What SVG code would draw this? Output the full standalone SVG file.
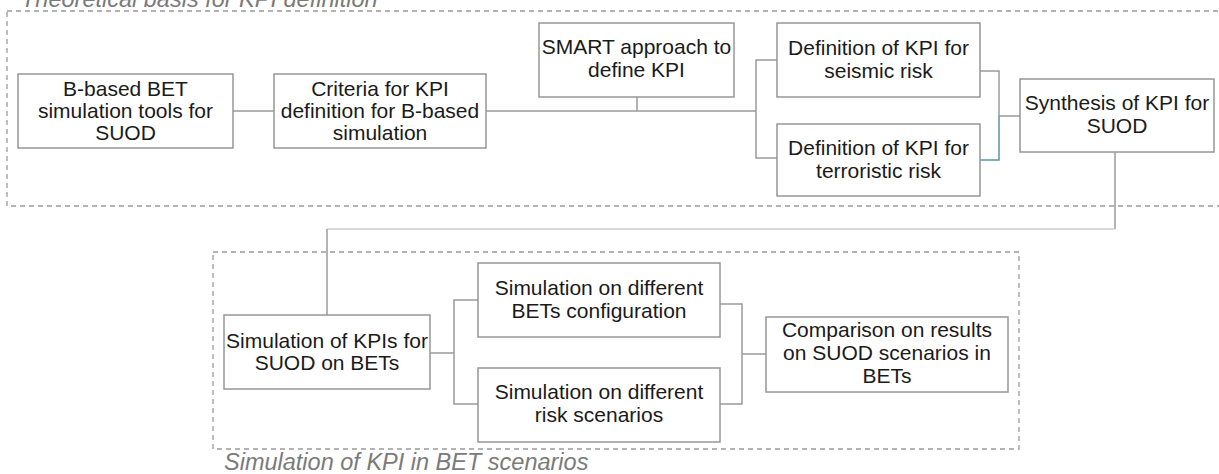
<svg xmlns="http://www.w3.org/2000/svg" width="1219" height="474" viewBox="0 0 1219 474">
<style>
.node rect{fill:#fff;stroke:#979797;stroke-width:1.5}
.node text{font-family:"Liberation Sans",Arial,sans-serif;font-size:21px;fill:#1a1a1a;text-anchor:middle}
.frame{fill:none;stroke:#9a9a9a;stroke-width:1.3;stroke-dasharray:5,4}
.lbl{font-family:"Liberation Sans",Arial,sans-serif;font-size:23.5px;font-style:italic;fill:#7a7a7a}
.conn path{fill:none;stroke:#9a9a9a;stroke-width:1.5}
</style>
<rect width="1219" height="474" fill="#fff"/>
<g id="frame-theory">
<rect class="frame" x="7" y="11" width="1230" height="195"/>
<text class="lbl" x="21" y="7">Theoretical basis for KPI definition</text>
</g>
<g id="frame-simulation">
<rect class="frame" x="213" y="252" width="806" height="197"/>
<text class="lbl" x="224" y="470">Simulation of KPI in BET scenarios</text>
</g>
<g class="conn" id="connectors">
<path d="M233,111H274"/>
<path d="M486,111H756"/>
<path d="M637,97V111"/>
<path d="M777,60H756V158H777"/>
<path d="M980,71H999V116"/>
<path d="M999,116V160H980" style="stroke:#5a979c"/>
<path d="M999,116H1020"/>
<path d="M1115,152V229"/>
<path d="M1115,229H327" style="stroke:#cdcdcd"/>
<path d="M327,229V315"/>
<path d="M430,353H454"/>
<path d="M478,300H454V404H478"/>
<path d="M720,304H742V404H720"/>
<path d="M742,354H766"/>
</g>
<g class="node" id="n-bbased">
<rect x="18" y="74" width="215" height="74"/>
<text x="125.5" y="96">B-based BET</text>
<text x="125.5" y="118">simulation tools for</text>
<text x="125.5" y="140">SUOD</text>
</g>
<g class="node" id="n-criteria">
<rect x="274" y="74" width="212" height="74"/>
<text x="380" y="96">Criteria for KPI</text>
<text x="380" y="118">definition for B-based</text>
<text x="380" y="140">simulation</text>
</g>
<g class="node" id="n-smart">
<rect x="539" y="23" width="195" height="74"/>
<text x="636.5" y="54">SMART approach to</text>
<text x="636.5" y="77">define KPI</text>
</g>
<g class="node" id="n-seismic">
<rect x="777" y="23" width="203" height="74"/>
<text x="878.5" y="55">Definition of KPI for</text>
<text x="878.5" y="78">seismic risk</text>
</g>
<g class="node" id="n-terror">
<rect x="777" y="124" width="203" height="72"/>
<text x="878.5" y="155">Definition of KPI for</text>
<text x="878.5" y="178">terroristic risk</text>
</g>
<g class="node" id="n-synthesis">
<rect x="1020" y="79" width="194" height="73"/>
<text x="1117" y="110">Synthesis of KPI for</text>
<text x="1117" y="133">SUOD</text>
</g>
<g class="node" id="n-simkpi">
<rect x="224" y="315" width="206" height="74"/>
<text x="327" y="348">Simulation of KPIs for</text>
<text x="327" y="370">SUOD on BETs</text>
</g>
<g class="node" id="n-simbets">
<rect x="478" y="263" width="242" height="74"/>
<text x="599" y="295">Simulation on different</text>
<text x="599" y="318">BETs configuration</text>
</g>
<g class="node" id="n-simrisk">
<rect x="478" y="368" width="242" height="74"/>
<text x="599" y="399">Simulation on different</text>
<text x="599" y="422">risk scenarios</text>
</g>
<g class="node" id="n-compare">
<rect x="766" y="317" width="242" height="75"/>
<text x="887" y="337">Comparison on results</text>
<text x="887" y="360">on SUOD scenarios in</text>
<text x="887" y="383">BETs</text>
</g>
</svg>
